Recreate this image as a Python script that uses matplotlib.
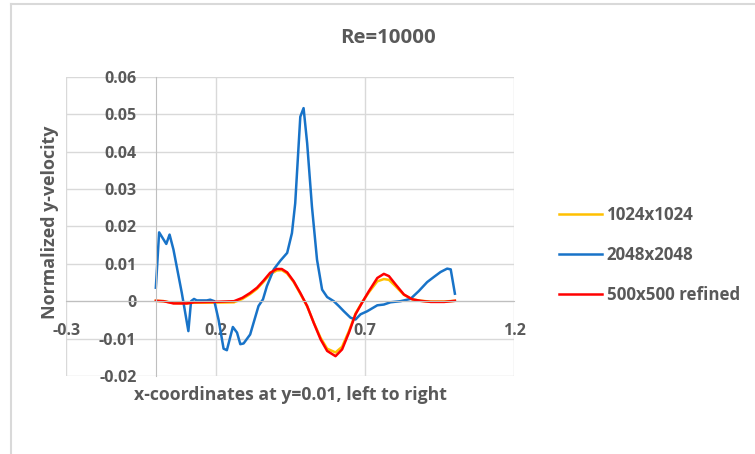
import matplotlib
matplotlib.use('Agg')
import matplotlib.pyplot as plt
from matplotlib.lines import Line2D

plt.rcParams['font.family'] = ['Open Sans', 'DejaVu Sans']

# 1024x1024
x_1024 = [0, 0.026, 0.059, 0.104, 0.128, 0.195, 0.262, 0.290, 0.316, 0.339, 0.361,
          0.383, 0.405, 0.422, 0.440, 0.462, 0.484, 0.507, 0.529, 0.552, 0.574,
          0.602, 0.624, 0.647, 0.669, 0.691, 0.714, 0.742, 0.764, 0.781, 0.803,
          0.831, 0.859, 0.887, 0.921, 0.966, 1.002]
y_1024 = [0.0001, 0, -0.0005, -0.0006, -0.0004, -0.0004, -0.0003, 0.0006, 0.0019,
          0.0033, 0.0052, 0.0072, 0.0082, 0.0083, 0.0074, 0.0051, 0.0020, -0.0014,
          -0.0057, -0.0098, -0.0127, -0.0137, -0.0122, -0.0080, -0.0033, -0.0003,
          0.0024, 0.0053, 0.0059, 0.0057, 0.0040, 0.0017, 0.0005, 0.0001, -0.0001,
          -0.0001, 0.0001]

# 2048x2048
x_2048 = [0, 0.011, 0.035, 0.046, 0.059, 0.087, 0.109, 0.118, 0.128, 0.137, 0.171,
          0.182, 0.196, 0.210, 0.227, 0.238, 0.258, 0.272, 0.283, 0.294, 0.316,
          0.344, 0.359, 0.372, 0.395, 0.417, 0.440, 0.456, 0.467, 0.484, 0.495,
          0.507, 0.523, 0.540, 0.557, 0.574, 0.596, 0.613, 0.630, 0.652, 0.669,
          0.686, 0.708, 0.742, 0.764, 0.786, 0.820, 0.853, 0.881, 0.909, 0.932,
          0.954, 0.976, 0.988, 1.002]
y_2048 = [0.0036, 0.0184, 0.0153, 0.0178, 0.0138, 0.0022, -0.0080, 0.0, 0.0006,
          0.0002, 0.0002, 0.0004, 0.0, -0.0049, -0.0127, -0.0131, -0.0069, -0.0084,
          -0.0115, -0.0113, -0.0089, -0.0013, 0.0005, 0.0040, 0.0085, 0.0108,
          0.0129, 0.0182, 0.0262, 0.0493, 0.0516, 0.0422, 0.0253, 0.0111, 0.0031,
          0.0011, 0.0, -0.0013, -0.0027, -0.0044, -0.0049, -0.0035, -0.0027,
          -0.0011, -0.0009, -0.0003, 0.0, 0.0006, 0.0027, 0.0051, 0.0065, 0.0078,
          0.0087, 0.0085, 0.0020]

# 500x500 refined
x_500 = [0, 0.026, 0.059, 0.104, 0.128, 0.195, 0.262, 0.290, 0.316, 0.339, 0.361,
         0.383, 0.405, 0.422, 0.440, 0.462, 0.484, 0.507, 0.529, 0.552, 0.574,
         0.602, 0.624, 0.647, 0.669, 0.691, 0.714, 0.742, 0.764, 0.781, 0.803,
         0.831, 0.859, 0.887, 0.921, 0.966, 1.002]
y_500 = [0.0001, 0, -0.0006, -0.0006, -0.0003, -0.0002, 0, 0.0009, 0.0022, 0.0036,
         0.0055, 0.0076, 0.0086, 0.0086, 0.0077, 0.0053, 0.0022, -0.0013, -0.0058,
         -0.0102, -0.0133, -0.0147, -0.0129, -0.0084, -0.0035, -0.0004, 0.0027,
         0.0062, 0.0073, 0.0067, 0.0045, 0.0018, 0.0005, 0.0001, -0.0002, -0.0002,
         0.0001]

x_ticks = [-0.3, 0.2, 0.7, 1.2]
y_ticks = [-0.02, -0.01, 0, 0.01, 0.02, 0.03, 0.04, 0.05, 0.06]
y_ticklabels = ['-0.02', '-0.01', '0', '0.01', '0.02', '0.03', '0.04', '0.05', '0.06']
labels = ['1024x1024', '2048x2048', '500x500 refined']
colors = ['#FFC000', '#1873C8', '#FF0000']

txt = '#595959'
fig = plt.figure(figsize=(7.55, 4.54), dpi=100)
ax = fig.add_axes([66.3 / 755, 1 - 376 / 454, (514 - 66.3) / 755, (376 - 76.7) / 454])

ax.plot(x_1024, y_1024, color=colors[0], lw=1.8)
ax.plot(x_2048, y_2048, color=colors[1], lw=1.8)
ax.plot(x_500, y_500, color=colors[2], lw=1.8)

ax.set_xlim(-0.3, 1.2)
ax.set_ylim(-0.02, 0.06)
ax.set_xticks(x_ticks)
ax.set_xticklabels(['-0.3', '0.2', '0.7', '1.2'])
ax.set_yticks(y_ticks)
ax.set_yticklabels(y_ticklabels)
ax.grid(True, color='#D9D9D9', lw=1)
ax.set_axisbelow(True)

ax.spines['left'].set_position(('data', 0))
ax.spines['bottom'].set_position(('data', 0))
ax.spines['left'].set_color('#BFBFBF')
ax.spines['bottom'].set_color('#BFBFBF')
ax.spines['top'].set_visible(False)
ax.spines['right'].set_visible(False)
ax.tick_params(axis='both', length=0, labelsize=11.5, labelcolor=txt)
ax.tick_params(axis='y', pad=14)
ax.tick_params(axis='x', pad=16)
for t in ax.get_xticklabels() + ax.get_yticklabels():
    t.set_fontweight('bold')

fig.text(388 / 755, 1 - 38 / 454, 'Re=10000', ha='center', va='center',
         fontsize=14.7, fontweight='bold', color=txt)
fig.text(290 / 755, 1 - 395 / 454, 'x-coordinates at y=0.01, left to right',
         ha='center', va='center', fontsize=12.7, fontweight='bold', color=txt)
fig.text(50 / 755, 1 - 222 / 454, 'Normalized y-velocity', rotation=90,
         ha='center', va='center', fontsize=12.9, fontweight='bold', color=txt)

handles = [Line2D([], [], color=c, lw=1.8) for c in colors]
leg = fig.legend(handles, labels, loc='center left', bbox_to_anchor=(544 / 755, 1 - 255 / 454),
                 frameon=False, fontsize=12.2, handlelength=2.55, handletextpad=0.25,
                 labelspacing=1.3, borderpad=0.4)
for t in leg.get_texts():
    t.set_color(txt)
    t.set_fontweight('bold')

# chart border
fig.add_artist(Line2D([11 / 755, 11 / 755], [0, 1 - 4 / 454], color='#D9D9D9', lw=1.5,
                      transform=fig.transFigure))
fig.add_artist(Line2D([11 / 755, 1], [1 - 4 / 454, 1 - 4 / 454], color='#D9D9D9', lw=1.5,
                      transform=fig.transFigure))

fig.savefig('out.png', dpi=100)
